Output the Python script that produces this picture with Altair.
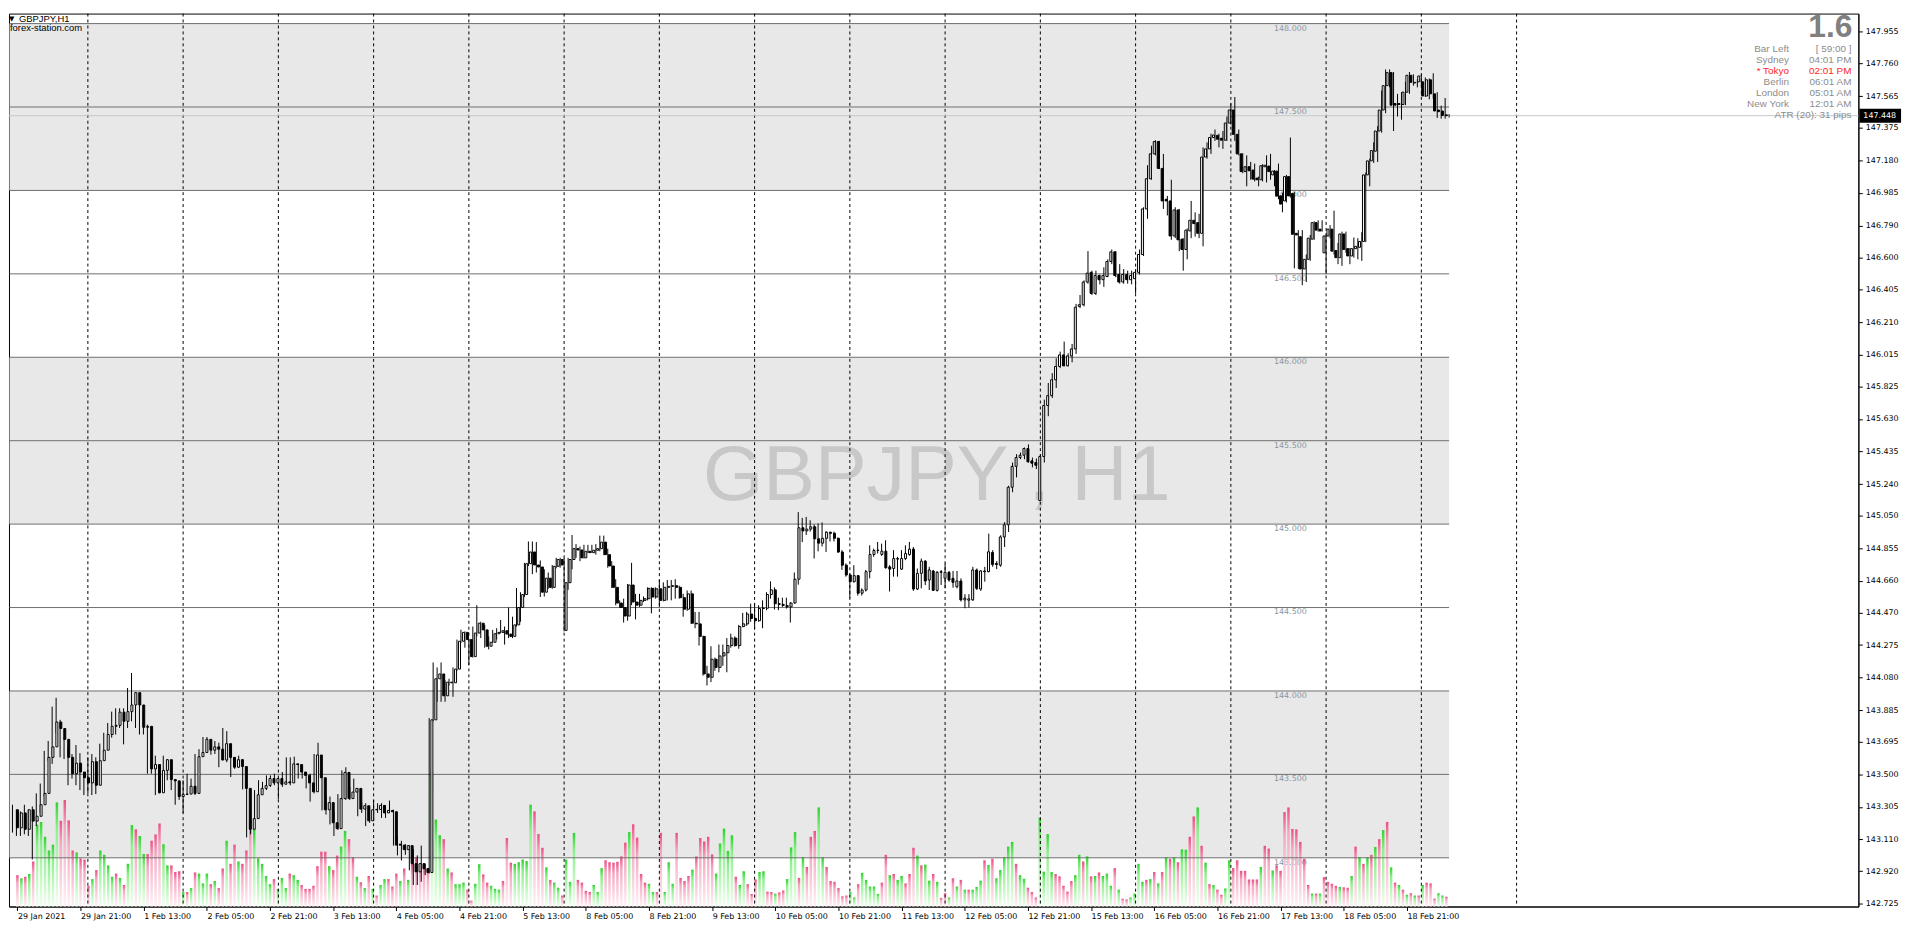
import json
import altair as alt
import pandas as pd

# ------------------------------------------------------------------ data
symbol = "GBPJPY"
timeframe = "H1"

opens = [
    143.288,143.180,143.269,143.171,143.288,143.220,143.249,143.318,143.386,143.602,
    143.665,143.814,143.775,143.710,143.602,143.504,143.567,143.514,143.480,143.449,
    143.576,143.435,143.582,143.645,143.739,143.788,143.794,143.873,143.818,143.876,
    143.916,143.990,143.916,143.782,143.788,143.533,143.559,143.390,143.524,143.588,
    143.469,143.461,143.367,143.380,143.382,143.429,143.386,143.606,143.631,143.710,
    143.645,143.665,143.651,143.586,143.684,143.602,143.543,143.588,143.547,143.416,
    143.171,143.235,143.378,143.416,143.433,143.475,143.449,143.475,143.441,143.455,
    143.449,143.563,143.559,143.514,143.494,143.449,143.396,143.616,143.480,143.288,
    143.331,143.210,143.175,143.355,143.512,143.355,143.394,143.416,143.292,143.312,
    143.222,143.288,143.290,143.314,143.269,143.284,143.276,143.082,143.076,143.049,
    143.073,142.965,142.916,142.965,142.935,142.912,143.827,144.073,144.102,143.971,
    144.049,144.049,144.131,144.298,144.351,144.308,144.206,144.347,144.406,144.366,
    144.268,144.292,144.343,144.351,144.361,144.341,144.327,144.396,144.500,144.578,
    144.763,144.833,144.755,144.743,144.592,144.676,144.621,144.747,144.788,144.363,
    144.649,144.788,144.853,144.845,144.798,144.837,144.829,144.843,144.853,144.892,
    144.817,144.749,144.621,144.527,144.500,144.449,144.635,144.533,144.514,144.543,
    144.553,144.615,144.563,144.612,144.543,144.621,144.627,144.631,144.621,144.559,
    144.490,144.582,144.406,144.402,144.327,144.102,144.082,144.190,144.141,144.210,
    144.229,144.272,144.317,144.272,144.386,144.402,144.461,144.435,144.421,144.494,
    144.496,144.578,144.606,144.523,144.519,144.512,144.504,144.527,144.670,144.978,
    144.959,144.970,144.984,144.912,144.886,144.915,144.951,144.945,144.915,144.833,
    144.754,144.695,144.655,144.691,144.586,144.605,144.715,144.818,144.842,144.818,
    144.838,144.744,144.734,144.790,144.730,144.794,144.818,144.850,144.611,144.705,
    144.778,144.665,144.719,144.603,144.711,144.675,144.711,144.675,144.625,144.659,
    144.546,144.544,144.546,144.725,144.611,144.715,144.715,144.830,144.764,144.754,
    144.923,144.996,145.221,145.346,145.399,145.413,145.453,145.379,145.369,145.141,
    145.405,145.711,145.770,145.865,145.945,146.014,145.949,146.008,146.050,146.305,
    146.315,146.451,146.509,146.383,146.490,146.465,146.484,146.574,146.632,146.496,
    146.451,146.496,146.465,146.471,146.509,146.616,146.889,147.070,147.219,147.293,
    147.132,146.947,146.937,146.727,146.883,146.708,146.646,146.757,146.821,146.807,
    146.743,147.200,147.249,147.317,147.330,147.313,147.301,147.404,147.482,147.336,
    147.219,147.113,147.142,147.122,147.074,147.064,147.142,147.146,147.093,147.116,
    146.967,146.937,147.083,146.982,146.743,146.723,146.529,146.587,146.708,146.807,
    146.768,146.626,146.727,146.768,146.640,146.597,146.739,146.651,146.607,146.651,
    146.659,146.694,147.093,147.177,147.235,147.356,147.482,147.628,147.706,147.521,
    147.515,147.515,147.589,147.690,147.644,147.651,147.651,147.566,147.663,147.579,
    147.482,147.476,147.453,
]

highs = [
    143.318,143.288,143.278,143.318,143.290,143.308,143.386,143.445,143.641,143.700,
    143.906,143.959,143.827,143.720,143.661,143.622,143.676,143.627,143.504,143.602,
    143.622,143.602,143.684,143.749,143.808,143.876,143.896,143.896,143.896,144.018,
    144.108,143.994,143.945,143.876,143.798,143.592,143.612,143.533,143.612,143.592,
    143.573,143.465,143.425,143.465,143.504,143.475,143.622,143.651,143.724,143.724,
    143.676,143.700,143.690,143.778,143.759,143.622,143.602,143.612,143.592,143.435,
    143.249,143.406,143.465,143.455,143.494,143.494,143.504,143.480,143.514,143.602,
    143.602,143.606,143.563,143.543,143.504,143.504,143.622,143.690,143.484,143.367,
    143.367,143.278,143.382,143.524,143.543,143.425,143.475,143.418,143.331,143.327,
    143.308,143.347,143.327,143.327,143.308,143.343,143.288,143.131,143.102,143.082,
    143.076,143.053,143.014,143.073,142.965,143.837,144.171,144.141,144.171,144.063,
    144.073,144.141,144.308,144.367,144.357,144.310,144.386,144.514,144.415,144.396,
    144.327,144.366,144.376,144.425,144.386,144.500,144.445,144.617,144.592,144.768,
    144.896,144.896,144.892,144.782,144.729,144.710,144.755,144.798,144.798,144.798,
    144.798,144.935,144.880,144.866,144.876,144.876,144.876,144.880,144.931,144.931,
    144.853,144.778,144.670,144.543,144.553,144.641,144.768,144.582,144.582,144.566,
    144.621,144.621,144.621,144.665,144.651,144.665,144.665,144.670,144.631,144.582,
    144.602,144.602,144.474,144.474,144.331,144.151,144.268,144.200,144.278,144.278,
    144.317,144.343,144.327,144.396,144.468,144.474,144.523,144.523,144.514,144.543,
    144.592,144.657,144.621,144.559,144.559,144.559,144.533,144.710,145.072,145.037,
    145.043,145.023,144.998,145.004,145.010,144.959,144.955,144.955,144.920,144.844,
    144.764,144.705,144.754,144.695,144.615,144.725,144.873,144.853,144.893,144.883,
    144.903,144.754,144.844,144.804,144.844,144.873,144.893,144.863,144.734,144.794,
    144.784,144.744,144.725,144.719,144.725,144.764,144.719,144.719,144.719,144.675,
    144.580,144.580,144.744,144.734,144.725,144.744,144.943,144.844,144.778,144.933,
    145.012,145.230,145.369,145.419,145.429,145.459,145.478,145.399,145.393,145.419,
    145.746,145.846,145.905,145.994,146.034,146.094,146.024,146.080,146.320,146.373,
    146.461,146.636,146.519,146.519,146.496,146.539,146.587,146.646,146.636,146.558,
    146.529,146.519,146.519,146.529,146.646,146.899,147.151,147.268,147.301,147.297,
    147.219,146.967,147.064,146.899,146.889,146.714,146.772,146.937,146.869,146.860,
    147.258,147.288,147.340,147.365,147.340,147.356,147.443,147.521,147.560,147.365,
    147.223,147.210,147.171,147.161,147.083,147.157,147.210,147.219,147.122,147.161,
    146.986,147.093,147.317,146.990,146.762,146.762,146.616,146.733,146.815,146.821,
    146.821,146.743,146.792,146.879,146.685,146.753,146.753,146.655,146.718,146.714,
    146.749,147.107,147.190,147.288,147.385,147.599,147.725,147.725,147.710,147.579,
    147.589,147.651,147.710,147.696,147.667,147.696,147.677,147.671,147.702,147.589,
    147.508,147.554,147.457,
]

lows = [
    143.151,143.131,143.131,143.141,143.131,142.990,143.190,143.269,143.367,143.582,
    143.563,143.749,143.602,143.592,143.435,143.475,143.435,143.406,143.376,143.386,
    143.376,143.382,143.563,143.631,143.720,143.720,143.739,143.778,143.680,143.778,
    143.818,143.778,143.739,143.739,143.504,143.504,143.376,143.386,143.484,143.465,
    143.406,143.318,143.347,143.269,143.376,143.382,143.376,143.602,143.622,143.651,
    143.618,143.622,143.543,143.586,143.573,143.484,143.533,143.539,143.410,143.122,
    143.141,143.229,143.367,143.386,143.406,143.425,143.435,143.351,143.425,143.445,
    143.435,143.533,143.475,143.475,143.416,143.337,143.386,143.475,143.284,143.259,
    143.200,143.131,143.167,143.347,143.347,143.347,143.390,143.249,143.269,143.190,
    143.210,143.220,143.269,143.239,143.239,143.269,143.073,143.014,142.984,143.018,
    142.925,142.837,142.837,142.857,142.896,142.906,143.818,143.935,143.935,143.935,
    144.033,143.965,144.121,144.288,144.259,144.155,144.200,144.327,144.317,144.259,
    144.249,144.288,144.308,144.347,144.278,144.317,144.317,144.386,144.415,144.563,
    144.749,144.700,144.710,144.563,144.566,144.612,144.612,144.735,144.739,144.357,
    144.606,144.729,144.798,144.778,144.794,144.827,144.827,144.817,144.837,144.814,
    144.739,144.617,144.514,144.498,144.410,144.421,144.514,144.429,144.504,144.533,
    144.543,144.465,144.553,144.504,144.537,144.543,144.543,144.553,144.553,144.445,
    144.480,144.402,144.376,144.272,144.092,144.033,144.053,144.121,144.112,144.151,
    144.112,144.259,144.265,144.253,144.382,144.390,144.415,144.370,144.415,144.376,
    144.484,144.553,144.488,144.484,144.504,144.494,144.410,144.523,144.637,144.892,
    144.935,144.955,144.794,144.837,144.866,144.833,144.896,144.896,144.827,144.725,
    144.685,144.556,144.650,144.572,144.572,144.596,144.675,144.804,144.824,144.810,
    144.734,144.596,144.685,144.685,144.725,144.784,144.810,144.600,144.605,144.615,
    144.635,144.605,144.600,144.596,144.635,144.615,144.655,144.619,144.615,144.536,
    144.496,144.500,144.540,144.605,144.600,144.655,144.711,144.744,144.730,144.744,
    144.863,144.953,145.191,145.280,145.389,145.389,145.369,145.340,145.330,145.141,
    145.369,145.647,145.756,145.816,145.935,145.945,145.945,145.970,146.020,146.295,
    146.305,146.441,146.373,146.373,146.437,146.422,146.480,146.558,146.480,146.441,
    146.441,146.441,146.437,146.383,146.496,146.607,146.830,147.064,147.210,147.128,
    146.889,146.850,146.704,146.714,146.636,146.519,146.587,146.714,146.723,146.714,
    146.665,147.190,147.219,147.297,147.258,147.249,147.297,147.395,147.297,147.210,
    147.103,147.025,147.064,147.054,147.025,147.054,147.048,147.064,147.025,146.947,
    146.869,146.928,146.957,146.533,146.529,146.432,146.451,146.578,146.704,146.753,
    146.753,146.500,146.714,146.616,146.558,146.548,146.626,146.558,146.597,146.587,
    146.578,146.690,147.025,147.165,147.171,147.346,147.463,147.618,147.356,147.443,
    147.424,147.511,147.579,147.628,147.618,147.628,147.560,147.546,147.550,147.434,
    147.430,147.430,147.437,
]

closes = [
    143.180,143.269,143.171,143.288,143.220,143.249,143.318,143.386,143.602,143.665,
    143.814,143.775,143.710,143.602,143.504,143.567,143.514,143.480,143.449,143.576,
    143.435,143.582,143.645,143.739,143.788,143.794,143.873,143.818,143.876,143.916,
    143.990,143.916,143.782,143.788,143.533,143.559,143.390,143.524,143.588,143.469,
    143.461,143.367,143.380,143.382,143.429,143.386,143.606,143.631,143.710,143.645,
    143.665,143.651,143.586,143.684,143.602,143.543,143.588,143.547,143.416,143.171,
    143.235,143.378,143.416,143.433,143.475,143.449,143.475,143.441,143.455,143.449,
    143.563,143.559,143.514,143.494,143.449,143.396,143.616,143.480,143.288,143.331,
    143.210,143.175,143.355,143.512,143.355,143.394,143.416,143.292,143.312,143.222,
    143.288,143.290,143.314,143.269,143.284,143.276,143.076,143.076,143.049,143.073,
    142.965,142.916,142.965,142.935,142.912,143.827,144.073,144.102,143.971,144.053,
    144.053,144.131,144.298,144.351,144.308,144.206,144.347,144.406,144.366,144.268,
    144.292,144.343,144.351,144.361,144.341,144.327,144.396,144.500,144.578,144.763,
    144.833,144.755,144.743,144.592,144.676,144.621,144.747,144.788,144.755,144.649,
    144.788,144.853,144.845,144.798,144.837,144.829,144.843,144.853,144.892,144.817,
    144.749,144.621,144.527,144.500,144.449,144.635,144.533,144.514,144.543,144.553,
    144.615,144.563,144.612,144.543,144.621,144.627,144.631,144.621,144.559,144.490,
    144.582,144.406,144.402,144.327,144.102,144.082,144.190,144.141,144.210,144.229,
    144.272,144.317,144.272,144.386,144.402,144.461,144.435,144.421,144.494,144.496,
    144.578,144.606,144.523,144.519,144.512,144.504,144.527,144.670,144.978,144.959,
    144.970,144.984,144.912,144.886,144.915,144.951,144.945,144.915,144.833,144.754,
    144.695,144.655,144.691,144.586,144.605,144.715,144.818,144.842,144.844,144.838,
    144.738,144.730,144.794,144.794,144.794,144.824,144.850,144.611,144.705,144.778,
    144.659,144.725,144.603,144.711,144.715,144.711,144.665,144.651,144.659,144.546,
    144.556,144.552,144.725,144.615,144.719,144.719,144.834,144.758,144.758,144.923,
    144.996,145.221,145.346,145.399,145.413,145.453,145.373,145.365,145.353,145.405,
    145.711,145.770,145.865,145.945,146.014,145.949,146.008,146.050,146.300,146.315,
    146.451,146.504,146.383,146.490,146.465,146.490,146.574,146.632,146.490,146.451,
    146.496,146.465,146.490,146.509,146.616,146.889,147.070,147.219,147.293,147.132,
    146.937,146.937,146.727,146.883,146.704,146.646,146.762,146.821,146.801,146.743,
    147.200,147.249,147.317,147.332,147.307,147.301,147.404,147.482,147.336,147.219,
    147.113,147.142,147.118,147.068,147.064,147.148,147.151,147.113,147.116,146.967,
    146.918,147.083,146.967,146.737,146.733,146.529,146.587,146.714,146.807,146.762,
    146.757,146.727,146.768,146.636,146.597,146.739,146.646,146.607,146.651,146.665,
    146.694,147.093,147.177,147.239,147.356,147.482,147.628,147.706,147.511,147.511,
    147.521,147.589,147.690,147.648,147.648,147.686,147.566,147.663,147.579,147.476,
    147.472,147.449,147.448,
]

volumes = [
    800,720,760,830,1150,2090,2160,1780,1430,1580,
    2660,2190,2720,2200,1430,1380,1230,1200,530,700,
    930,1430,1320,1050,760,840,730,550,1090,2080,
    1970,1800,1340,1340,1680,1840,2120,1590,1050,1050,
    880,900,370,370,470,870,840,590,840,570,
    650,470,970,1680,1090,1580,1150,1090,1430,2200,
    1970,1230,1090,780,570,700,450,730,470,840,
    800,680,550,450,450,530,1030,1400,1400,1030,
    930,1300,1530,1930,1720,1260,760,620,470,780,
    450,280,550,700,700,510,840,650,970,680,
    1090,1260,1090,1030,970,3430,2220,1820,1720,970,
    870,570,570,
    610,430,150,580,1080,820,610,530,450,
    430,650,1750,1120,1090,1130,1200,1160,2600,2430,1850,1500,1000,680,610,480,280,1200,630,1880,
    680,610,400,370,550,370,980,1180,1130,1120,1140,1280,1630,1900,2100,1760,830,610,580,370,
    370,1880,370,1130,580,1880,730,650,780,940,1280,1750,1660,1780,1330,840,1610,1990,1420,1820,
    760,550,900,570,320,690,
    880,900,380,370,330,360,410,700,1510,1900,730,1260,1010,1780,1930,2530,1260,1010,650,630,
    470,260,280,370,230,570,860,680,510,510,320,610,1320,800,830,680,780,590,830,1500,
    1300,1050,1070,660,830,630,220,340,230,720,510,680,430,430,430,500,
    660,1180,1060,1220,720,930,1260,1530,1650,1090,800,710,480,370,230,2270,890,1850,880,830,
    770,530,380,650,800,1320,1150,1280,770,780,870,
    780,840,530,980,430,200,180,230,330,1090,630,
    680,700,880,590,880,1260,1220,1260,1130,1460,1450,1780,2300,2530,1550,1120,570,550,430,300,
    460,1180,980,1180,910,910,690,
    690,690,1010,1550,1480,920,1050,910,2410,2530,1980,1970,1650,1220,550,330,330,
    330,750,630,580,530,500,490,480,780,1530,1260,1090,1260,1320,1520,1720,1950,2160,1000,610,
    550,430,300,340,280,280,550,610,590,200,340,280,250,
]

# G = rising tick volume (green), P = falling tick volume (pink)
volume_side = list(
    "PG" "PGPGGGGGGP" "PPPGPPPGPG" "GGGPGPGGPG" "GPPPPGGPPP" "GPGPGGGPGP"
    "PGPPGPPPGG" "GGGPGGGPGG" "PPPPPPPGPP" "GGPPGPGPGP" "GGPPPGPGPP" "PPPGGGPGPGG"
    "GPPGGPPGG"
    "GPPPGGGGGP" "PPGPGGPGGG" "PPPPGGGPPP" "PPPGPPPPGG" "PPGGGPPPPG" "PPPPPGGGGG" "PGGPPP"
    "GGPPGPPGGG" "PGPPPGGPPP" "PPPGGPGGGG" "GPPGPGGPPP" "GPGGPGPPGP" "GPGPGG"
    "GPGPGGGGGP" "GGPPPGGGGP" "PPPPGGPGPG" "P"
    "GGGPGPPGGGG"
    "PGPGPGPGPG" "GPPGPGPGPP" "GGPPPPP"
    "PPGPPGPPPP" "PPPPPGP"
    "GPPPPGPPGP" "GPGPGPGPGP" "GPGPGPGPPP" "G"
    "GP"
)

x_labels = [
    "29 Jan 2021", "29 Jan 21:00", "1 Feb 13:00", "2 Feb 05:00", "2 Feb 21:00",
    "3 Feb 13:00", "4 Feb 05:00", "4 Feb 21:00", "5 Feb 13:00", "8 Feb 05:00",
    "8 Feb 21:00", "9 Feb 13:00", "10 Feb 05:00", "10 Feb 21:00", "11 Feb 13:00",
    "12 Feb 05:00", "12 Feb 21:00", "15 Feb 13:00", "16 Feb 05:00", "16 Feb 21:00",
    "17 Feb 13:00", "18 Feb 05:00", "18 Feb 21:00",
]
x_label_bars = [0, 16, 32, 48, 64, 80, 96, 112, 128, 144, 160, 176, 192, 208, 224,
                240, 256, 272, 288, 304, 320, 336, 352]

y_ticks = [147.955, 147.760, 147.565, 147.375, 147.180, 146.985, 146.790, 146.600,
           146.405, 146.210, 146.015, 145.825, 145.630, 145.435, 145.240, 145.050,
           144.855, 144.660, 144.470, 144.275, 144.080, 143.885, 143.695, 143.500,
           143.305, 143.110, 142.920, 142.725]

round_levels = [143.0, 143.5, 144.0, 144.5, 145.0, 145.5, 146.0, 146.5, 147.0, 147.5, 148.0]
band_low = [143.0, 145.0, 147.0]
band_high = [144.0, 146.0, 148.0]
grid_bars = [19, 43, 67, 91, 115, 139, 163, 187, 211, 235, 259, 283, 307, 331, 355, 379]

last_price = 147.448
spread_text = "1.6"
clock_names = ["Bar Left", "Sydney", "* Tokyo", "Berlin", "London", "New York"]
clock_values = ["[ 59:00 ]", "04:01 PM", "02:01 PM", "06:01 AM", "05:01 AM", "12:01 AM"]
clock_colors = ["#8c8c8c", "#8c8c8c", "#ff1e1e", "#8c8c8c", "#8c8c8c", "#8c8c8c"]
atr_text = "ATR (20): 31 pips"

# ------------------------------------------------------------------ checks
N = len(opens)
assert len(highs) == N and len(lows) == N and len(closes) == N, (len(highs), len(lows), len(closes))
assert len(volumes) == N and len(volume_side) == N, (len(volumes), len(volume_side))

# ------------------------------------------------------------------ layout
W, H = 1864, 900
BAR_PX = 4
X_DOMAIN = [-0.875, W / BAR_PX - 0.875]
Y_DOMAIN = [142.708, 148.060]
VOL_DOMAIN = [0, 22800]

xs = alt.Scale(domain=X_DOMAIN, nice=False, zero=False)
ys = alt.Scale(domain=Y_DOMAIN, nice=False, zero=False)

df = pd.DataFrame({
    "i": list(range(N)), "o": opens, "h": highs, "l": lows, "c": closes,
    "vol": volumes, "side": volume_side,
})
df["dir"] = ["up" if c >= o else "down" for o, c in zip(opens, closes)]

one = pd.DataFrame({"k": [0]})
levels_df = pd.DataFrame({"level": round_levels})
bands_df = pd.DataFrame({"lo": band_low, "hi": band_high})
grid_df = pd.DataFrame({"g": grid_bars})

label_expr = json.dumps(x_labels) + "[round(datum.value / 16)]"
x_axis = alt.Axis(values=x_label_bars, labelExpr=label_expr, labelAlign="left",
                  labelBaseline="top", labelPadding=2, labelFont="DejaVu Sans",
                  labelFontSize=8, labelColor="black", tickColor="black", tickSize=4,
                  domainColor="black", grid=False, title=None, labelOverlap=False)
y_axis = alt.Axis(orient="right", values=y_ticks, format=".3f", labelFont="DejaVu Sans",
                  labelFontSize=8, labelColor="black", tickColor="black", tickSize=4,
                  labelPadding=3, domainColor="black", grid=False, title=None,
                  labelOverlap=False)

XN = lambda f: alt.X(f, scale=xs, axis=None)
YN = lambda f: alt.Y(f, scale=ys, axis=None)
LEFT_EDGE = -0.75

bands = alt.Chart(bands_df).mark_rect(color="#e8e8e8").encode(
    x=alt.X(datum=LEFT_EDGE, scale=xs, axis=None), x2=alt.X2(datum=N - 1),
    y=YN("lo:Q"), y2="hi:Q")

watermark = alt.Chart(one).mark_text(
    text=f"{symbol} , {timeframe}", font="Liberation Sans", fontSize=78,
    color="#c8c8c8", align="center", baseline="alphabetic").encode(
    x=alt.X(datum=232.9, scale=xs, axis=None), y=alt.Y(datum=145.147, scale=ys, axis=None))

level_labels = alt.Chart(levels_df).mark_text(
    font="DejaVu Sans", fontSize=8, color="#8795a3", align="center", baseline="top", dy=1).encode(
    x=alt.X(datum=322, scale=xs, axis=None), y=YN("level:Q"),
    text=alt.Text("level:Q", format=".3f"))

green_grad = alt.Gradient(gradient="linear", x1=0, x2=0, y1=0, y2=1, stops=[
    alt.GradientStop(color="#2ed42e", offset=0), alt.GradientStop(color="#8eef8e", offset=0.25),
    alt.GradientStop(color="#f3fff3", offset=1)])
pink_grad = alt.Gradient(gradient="linear", x1=0, x2=0, y1=0, y2=1, stops=[
    alt.GradientStop(color="#ec4f86", offset=0), alt.GradientStop(color="#f5a6c0", offset=0.25),
    alt.GradientStop(color="#fff3f7", offset=1)])

vol_scale = alt.Scale(domain=VOL_DOMAIN, nice=False, zero=True)
vol_up = alt.Chart(df).transform_filter(alt.datum.side == "G").mark_bar(
    width=2.5, color=green_grad).encode(
    x=XN("i:Q"), y=alt.Y("vol:Q", scale=vol_scale, axis=None))
vol_dn = alt.Chart(df).transform_filter(alt.datum.side == "P").mark_bar(
    width=2.5, color=pink_grad).encode(
    x=XN("i:Q"), y=alt.Y("vol:Q", scale=vol_scale, axis=None))

hlines = alt.Chart(levels_df).mark_rule(color="#6e6e6e", strokeWidth=1).encode(
    x=alt.X(datum=LEFT_EDGE, scale=xs, axis=None), x2=alt.X2(datum=N - 1), y=YN("level:Q"))

grid = alt.Chart(grid_df).mark_rule(color="black", strokeWidth=1, strokeDash=[3, 3]).encode(
    x=XN("g:Q"))

bid_line = alt.Chart(one).mark_rule(color="#c8c8c8", strokeWidth=1).encode(
    y=alt.Y(datum=last_price, scale=ys, axis=None))

wicks = alt.Chart(df).mark_rule(color="black", strokeWidth=1).encode(
    x=XN("i:Q"), y=YN("l:Q"), y2="h:Q")

bodies = alt.Chart(df).mark_bar(width=2, stroke="black", strokeWidth=1).encode(
    x=alt.X("i:Q", scale=xs, axis=x_axis),
    y=alt.Y("o:Q", scale=ys, axis=y_axis), y2="c:Q",
    fill=alt.Fill("dir:N", scale=alt.Scale(domain=["up", "down"], range=["white", "black"]),
                  legend=None))

price_box = alt.Chart(one).mark_rule(color="black", strokeWidth=14).encode(
    x=alt.value(W + 1), x2=alt.value(W + 43), y=alt.Y(datum=last_price, scale=ys, axis=None))
price_text = alt.Chart(one).mark_text(
    text=f"{last_price:.3f}", align="left", baseline="middle", font="DejaVu Sans",
    fontSize=8, color="white").encode(
    x=alt.value(W + 5), y=alt.Y(datum=last_price, scale=ys, axis=None))

texts = []
texts.append(alt.Chart(one).mark_text(text="\u25bc", font="DejaVu Sans", fontSize=7,
                                      align="left", baseline="top", color="black").encode(
    x=alt.value(0), y=alt.value(1)))
texts.append(alt.Chart(one).mark_text(text=f"{symbol},{timeframe}", font="Liberation Sans",
                                      fontSize=9.5, align="left", baseline="top",
                                      color="black").encode(x=alt.value(10), y=alt.value(0)))
texts.append(alt.Chart(one).mark_text(text="forex-station.com", font="Liberation Sans",
                                      fontSize=9.5, align="left", baseline="top",
                                      color="black").encode(x=alt.value(1), y=alt.value(10)))
texts.append(alt.Chart(one).mark_text(text=spread_text, font="Liberation Sans", fontSize=32,
                                      fontWeight="bold", align="right", baseline="alphabetic",
                                      color="#808080").encode(x=alt.value(1858), y=alt.value(24)))
row_y = [35.7, 46.7, 57.8, 68.8, 79.8, 90.7]
for name, val, col, yy in zip(clock_names, clock_values, clock_colors, row_y):
    texts.append(alt.Chart(one).mark_text(text=name, font="Liberation Sans", fontSize=10,
                                          align="right", baseline="middle", color=col).encode(
        x=alt.value(1794), y=alt.value(yy)))
    texts.append(alt.Chart(one).mark_text(text=val, font="Liberation Sans", fontSize=10,
                                          align="right", baseline="middle", color=col).encode(
        x=alt.value(1857), y=alt.value(yy)))
texts.append(alt.Chart(one).mark_text(text=atr_text, font="Liberation Sans", fontSize=10,
                                      align="right", baseline="middle", color="#8c8c8c").encode(
    x=alt.value(1857), y=alt.value(101.8)))

chart = alt.layer(
    bands, watermark, level_labels, vol_up, vol_dn, hlines, grid, bid_line,
    wicks, bodies, price_box, price_text, *texts
).resolve_scale(x="independent", y="independent").properties(
    width=W, height=H, padding=0, background="white"
).configure_view(stroke="black", strokeWidth=1)

chart.save("out.html", embed_options={"renderer": "svg", "actions": False})
